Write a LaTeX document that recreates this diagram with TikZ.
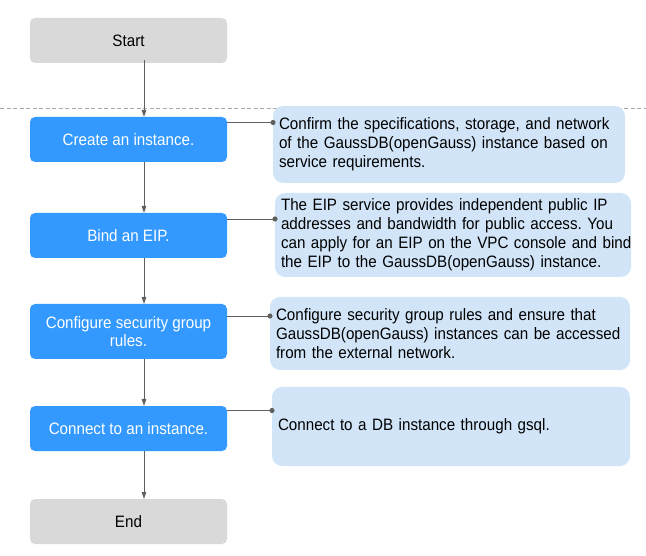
\documentclass[tikz,border=0pt]{standalone}
\usepackage{fontspec}
\setmainfont[FakeStretch=0.92]{Liberation Sans}
\usetikzlibrary{arrows.meta}
\definecolor{stepblue}{RGB}{51,153,255}
\definecolor{descblue}{RGB}{210,229,248}
\definecolor{termgray}{RGB}{217,217,217}
\definecolor{linegray}{RGB}{96,96,96}
\definecolor{dashgray}{RGB}{170,170,170}
\newcommand{\oneline}[1]{\mbox{#1}}
\frenchspacing
\tikzset{
  basebox/.style={rectangle, rounded corners=5pt, minimum width=197pt, inner sep=0pt, outer sep=0pt, align=center, font=\fontsize{16.5}{18.5}\selectfont},
  termbox/.style={basebox, fill=termgray, minimum height=45pt, text=black},
  stepbox/.style={basebox, fill=stepblue, text=white},
  descbox/.style={rectangle, rounded corners=10pt, fill=descblue, inner xsep=6pt, inner ysep=0pt, outer sep=0pt, align=left, font=\fontsize{16.5}{19}\selectfont\frenchspacing, text=black},
  flowarrow/.style={draw=linegray, line width=0.9pt, -{Triangle[length=7pt,width=4.5pt]}},
  conn/.style={draw=linegray, line width=0.9pt},
}
\begin{document}
\begin{tikzpicture}[x=1pt,y=-1pt]
\useasboundingbox (0,0) rectangle (646,556);
\draw[dashgray, line width=0.8pt, dash pattern=on 4pt off 2.5pt] (0,108) -- (646,108);

\node[termbox] (start) at (128.5,40.5) {Start};
\node[stepbox, minimum height=45pt] (create) at (128.5,139.5) {Create an instance.};
\node[stepbox, minimum height=45pt] (bind) at (128.5,235.5) {Bind an EIP.};
\node[stepbox, minimum height=55pt] (config) at (128.5,331.5) {Configure security group\\rules.};
\node[stepbox, minimum height=45pt] (connect) at (128.5,428.5) {Connect to an instance.};
\node[termbox] (end) at (128.5,521.5) {End};

\node[descbox, text width=340pt, minimum height=77pt] (d1) at (449,144.5)
  {\oneline{Confirm the specifications, storage, and network}\\\oneline{of the GaussDB(openGauss) instance based on}\\\oneline{service requirements.}};
\node[descbox, text width=344pt, minimum height=84pt] (d2) at (453,235)
  {\oneline{The EIP service provides independent public IP}\\\oneline{addresses and bandwidth for public access. You}\\\oneline{can apply for an EIP on the VPC console and bind}\\\oneline{the EIP to the GaussDB(openGauss) instance.}};
\node[descbox, text width=348pt, minimum height=73pt] (d3) at (450,333.5)
  {\oneline{Configure security group rules and ensure that}\\\oneline{GaussDB(openGauss) instances can be accessed}\\\oneline{from the external network.}};
\node[descbox, text width=346pt, minimum height=79pt] (d4) at (451,426.5)
  {\oneline{Connect to a DB instance through gsql.}};

\draw[flowarrow] ([xshift=15.5pt,yshift=3pt]start.south) -- ([xshift=15.5pt]create.north);
\draw[flowarrow] ([xshift=15.5pt]create.south) -- ([xshift=15.5pt]bind.north);
\draw[flowarrow] ([xshift=15.5pt]bind.south) -- ([xshift=15.5pt]config.north);
\draw[flowarrow] ([xshift=15.5pt]config.south) -- ([xshift=15.5pt]connect.north);
\draw[flowarrow] ([xshift=15.5pt]connect.south) -- ([xshift=15.5pt]end.north);

\coordinate (c1) at ([yshift=-5.5pt]create.north east);
\coordinate (c2) at ([yshift=-6pt]bind.north east);
\coordinate (c3) at ([yshift=-12pt]config.north east);
\coordinate (c4) at ([yshift=-4.5pt]connect.north east);
\draw[conn] (c1) -- (c1 -| d1.west);
\fill[linegray] (c1 -| d1.west) circle (2.6pt);
\draw[conn] (c2) -- (c2 -| d2.west);
\fill[linegray] (c2 -| d2.west) circle (2.6pt);
\draw[conn] (c3) -- (c3 -| d3.west);
\fill[linegray] (c3 -| d3.west) circle (2.6pt);
\draw[conn] (c4) -- (c4 -| d4.west);
\fill[linegray] (c4 -| d4.west) circle (2.6pt);
\end{tikzpicture}
\end{document}
